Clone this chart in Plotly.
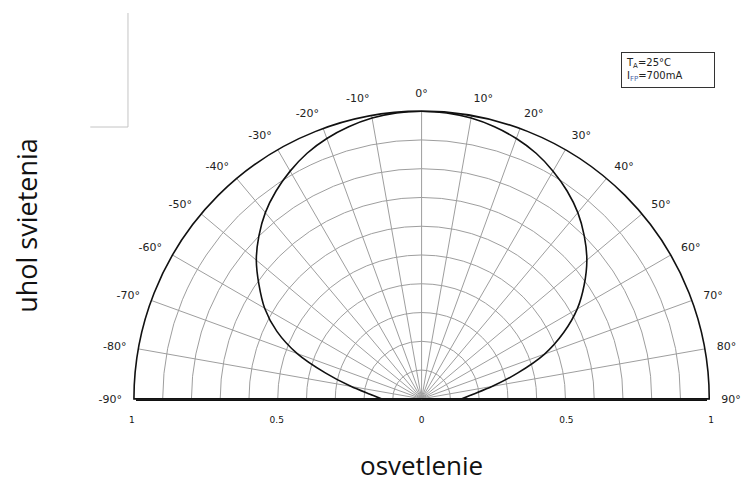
import plotly.graph_objects as go

# Data (relative luminous intensity vs. angle)
angles = [-90, -85, -80, -75, -70, -65, -60, -55, -50, -45, -40, -35, -30, -25, -20, -15, -10, -5,
          0, 5, 10, 15, 20, 25, 30, 35, 40, 45, 50, 55, 60, 65, 70, 75, 80, 85, 90]
intensity = [0.14, 0.18, 0.25, 0.345, 0.46, 0.555, 0.63, 0.69, 0.75, 0.80, 0.845, 0.882, 0.914, 0.942, 0.963, 0.979, 0.991, 0.998,
             1.0, 0.998, 0.991, 0.979, 0.963, 0.942, 0.914, 0.882, 0.845, 0.80, 0.75, 0.69, 0.625, 0.545, 0.455, 0.345, 0.25, 0.18, 0.14]

angle_ticks = list(range(-90, 91, 10))
angle_labels = [f"{a}°" for a in angle_ticks]
radial_ticks = [-1, -0.5, 0, 0.5, 1]
radial_labels = ["1", "0.5", "0", "0.5", "1"]

W, H = 742, 485
cx, cy, Rv = 422, 399, 288   # visible centre / radius in pixels
pad = 2                       # plotly trims ~2 px from the polar radius
Rl = 292                      # scale used by the bottom tick labels
pxdom = [(cx - Rv - pad) / W, (cx + Rv + pad) / W]
pydom = [(H - (cy + 1)) / H, (H - (cy + 1) + Rv + pad) / H]
xdom = [(cx - Rv) / W, (cx + Rv) / W]
x2dom = [(cx - Rl) / W, (cx + Rl) / W]
ydom = [(H - cy) / H, (H - cy + Rv) / H]

fig = go.Figure()

fig.add_trace(go.Scatterpolar(
    r=intensity, theta=angles, mode="lines",
    line=dict(color="#111111", width=1.6, shape="spline", smoothing=0.8),
    showlegend=False, hoverinfo="skip",
))

# invisible traces carrying the baseline and the bottom scale labels
fig.add_trace(go.Scatter(
    x=radial_ticks, y=[0] * len(radial_ticks), mode="markers",
    marker=dict(opacity=0), showlegend=False, hoverinfo="skip",
    xaxis="x", yaxis="y",
))
fig.add_trace(go.Scatter(
    x=radial_ticks, y=[0] * len(radial_ticks), mode="markers",
    marker=dict(opacity=0), showlegend=False, hoverinfo="skip",
    xaxis="x2", yaxis="y",
))

fig.update_layout(
    width=W, height=H,
    margin=dict(l=0, r=0, t=0, b=0),
    paper_bgcolor="white",
    plot_bgcolor="rgba(0,0,0,0)",
    polar=dict(
        domain=dict(x=pxdom, y=pydom),
        sector=[0, 180],
        bgcolor="rgba(0,0,0,0)",
        radialaxis=dict(
            range=[0, 1], dtick=0.1, showticklabels=False, ticks="",
            showline=False, gridcolor="#9e9e9e", gridwidth=1,
        ),
        angularaxis=dict(
            rotation=90, direction="clockwise",
            tickmode="array", tickvals=angle_ticks, ticktext=angle_labels,
            showline=True, linecolor="#111111", linewidth=1.6,
            gridcolor="#9e9e9e", gridwidth=1,
            ticks="outside", ticklen=9, tickcolor="rgba(0,0,0,0)",
            tickfont=dict(family="DejaVu Sans", size=11, color="#222222"),
        ),
    ),
    xaxis=dict(
        domain=xdom, range=[-1, 1], anchor="y",
        showticklabels=False, ticks="",
        showline=True, linecolor="#111111", linewidth=1.8,
        showgrid=False, zeroline=False, fixedrange=True,
    ),
    xaxis2=dict(
        domain=x2dom, range=[-1, 1], anchor="y",
        tickmode="array", tickvals=radial_ticks, ticktext=radial_labels,
        showline=False, showgrid=False, zeroline=False,
        ticks="outside", ticklen=12, tickcolor="rgba(0,0,0,0)",
        tickfont=dict(family="DejaVu Sans", size=9, color="#111111"),
        fixedrange=True,
    ),
    yaxis=dict(
        domain=ydom, range=[0, 1], visible=False, fixedrange=True,
    ),
    annotations=[
        dict(text="T<sub>A</sub>=25°C<br>I<sub><span style='color:#4a64a8'>FP</span></sub>=700mA",
             xref="paper", yref="paper", x=623 / W, y=1 - 52 / H,
             xanchor="left", yanchor="top", align="left", showarrow=False,
             font=dict(family="DejaVu Sans", size=10, color="#222222"),
             bordercolor="#333333", borderwidth=1, borderpad=4, bgcolor="white",
             width=84),
        dict(text="uhol svietenia", xref="paper", yref="paper",
             x=23 / W, y=1 - 225 / H, textangle=-90, showarrow=False,
             xanchor="center", yanchor="middle",
             font=dict(family="Open Sans", size=27, color="#111111")),
        dict(text="osvetlenie", xref="paper", yref="paper",
             x=cx / W, y=0, yshift=0, showarrow=False,
             xanchor="center", yanchor="bottom",
             font=dict(family="Open Sans", size=26, color="#111111")),
    ],
    shapes=[
        dict(type="line", xref="paper", yref="paper",
             x0=126 / W, x1=126 / W, y0=1 - 13 / H, y1=1 - 127 / H,
             line=dict(color="#c4c4c4", width=1)),
        dict(type="line", xref="paper", yref="paper",
             x0=88 / W, x1=126 / W, y0=1 - 127 / H, y1=1 - 127 / H,
             line=dict(color="#c4c4c4", width=1)),
    ],
)

fig.write_html("out.html", config={"displayModeBar": False},
               post_script="document.body.style.margin='0';document.body.style.overflow='hidden';")
